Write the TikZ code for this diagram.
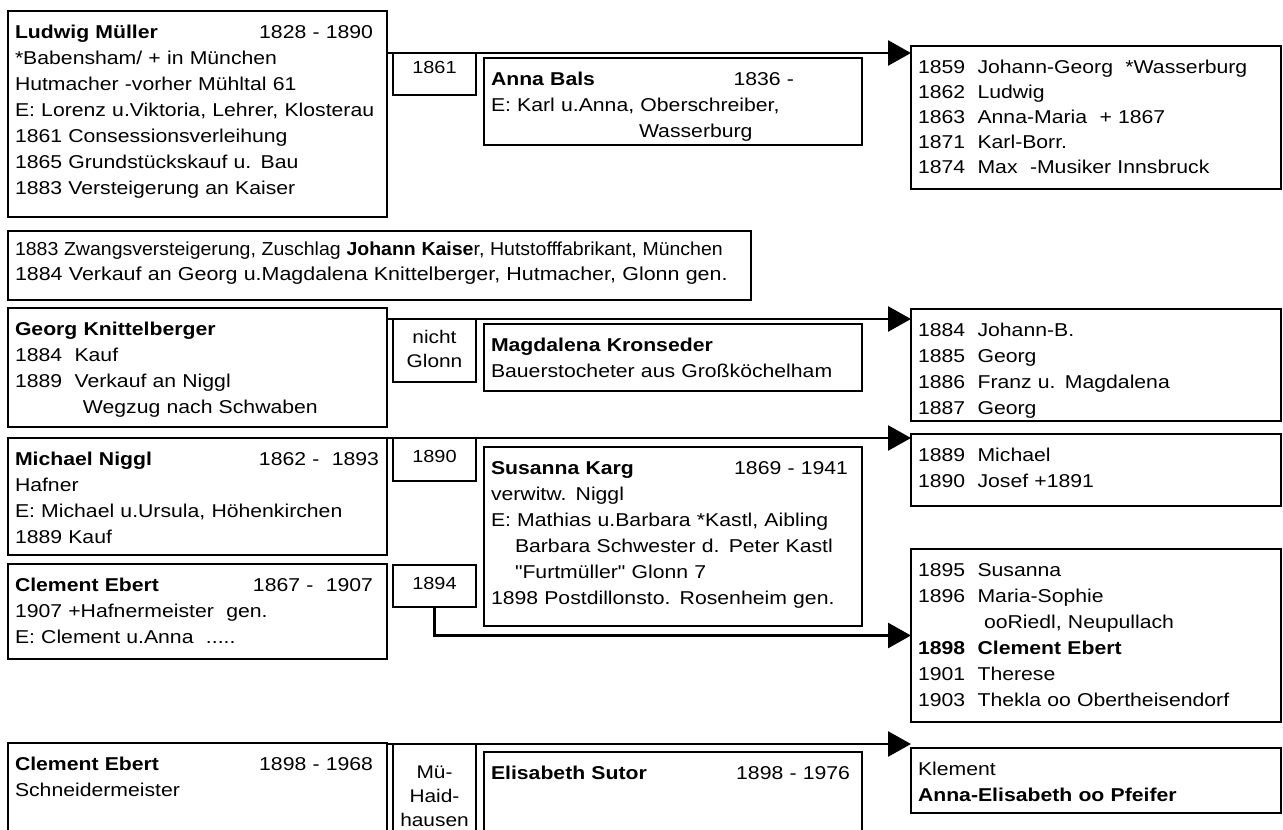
\documentclass[tikz,border=0pt]{standalone}
\usepackage{graphicx}
\usepackage{fontspec}
\setmainfont{Liberation Sans}[FakeStretch=1.14, Ligatures=TeXOff]
\usetikzlibrary{arrows.meta}
\newcommand{\lifespan}[2][0pt]{\hskip 0pt plus 1filll #2\kern#1\relax}

\begin{document}
\begin{tikzpicture}[x=1pt, y=-1pt, >={Triangle[length=23pt,width=25pt]},
  every box/.style={draw, line width=2.7pt, outer sep=0pt, inner sep=7pt,
    anchor=north west, align=left, text height=20pt,
    font=\fontsize{18.6}{26}\selectfont},
  datebox/.style={every box, inner sep=3pt, align=center, text width=77pt,
    text height=21pt, font=\fontsize{17.5}{24}\selectfont},
  link/.style={->, line width=2.7pt}]

\fill[white] (0,0) rectangle (1283,830);
\useasboundingbox (0,0) rectangle (1283,830);
\clip (0,0) rectangle (1283,830);

% owners
\node [every box, text width=365pt, text depth=172pt] (man-1) at (8,11)
  {\textbf{Ludwig Müller}\lifespan[7pt]{1828 - 1890}\\
   {}*Babensham/ + in München\\
   Hutmacher -vorher Mühltal 61\\
   E: Lorenz u.Viktoria, Lehrer, Klosterau\\
   1861 Consessionsverleihung\\
   1865 Grundstückskauf u. Bau\\
   1883 Versteigerung an Kaiser};

\node [every box, text width=729pt, text height=17pt, text depth=38pt,
  font=\fontsize{18.8}{25}\selectfont] (sale) at (8,231)
  {\scalebox{0.91}[1]{1883 Zwangsversteigerung, Zuschlag \textbf{Johann Kaise}r, Hutstofffabrikant, München}\\
   1884 Verkauf an Georg u.Magdalena Knittelberger, Hutmacher, Glonn gen.};

\node [every box, text width=365pt, text depth=85pt] (man-2) at (8,308)
  {\textbf{Georg Knittelberger}\\
   1884~~Kauf\\
   1889~~Verkauf an Niggl\\
   \hspace*{68pt}Wegzug nach Schwaben};

\node [every box, text width=365pt, text depth=83pt] (man-3) at (8,438)
  {\textbf{Michael Niggl}\lifespan[1pt]{1862 -~~1893}\\
   Hafner\\
   E: Michael u.Ursula, Höhenkirchen\\
   1889 Kauf};

\node [every box, text width=365pt, text depth=61pt] (man-4) at (8,564)
  {\textbf{Clement Ebert}\lifespan[7pt]{1867 -~~1907}\\
   1907 +Hafnermeister~~gen.\\
   E: Clement u.Anna~~.....};

\node [every box, text width=365pt, text depth=93pt] (man-5) at (8,743)
  {\textbf{Clement Ebert}\lifespan[7pt]{1898 - 1968}\\
   Schneidermeister};

% marriage
\node [datebox, text height=17pt, text depth=19pt] (year-1) at (393,53) {1861};
\node [datebox, text depth=36pt, font=\fontsize{18.3}{24}\selectfont] (year-2) at (393,319) {nicht\\Glonn};
\node [datebox, text depth=16pt] (year-3) at (393,438) {1890};
\node [datebox, text depth=15pt] (year-4) at (393,565) {1894};
\node [datebox, text height=31pt, text depth=89pt, font=\fontsize{18.3}{24}\selectfont] (year-5) at (393,744) {Mü-\\Haid-\\hausen};

% wives
\node [every box, text width=364pt, text depth=53pt] (wife-1) at (484,58)
  {\textbf{Anna Bals}\lifespan[61pt]{1836 -}\\
   E: Karl u.Anna, Oberschreiber,\\
   \hspace*{148pt}Wasserburg};

\node [every box, text width=364pt, text depth=33pt] (wife-2) at (484,324)
  {\textbf{Magdalena Kronseder}\\
   Bauerstocheter aus Großköchelham};

\node [every box, text width=364pt, text depth=145pt] (wife-3) at (484,447)
  {\textbf{Susanna Karg}\lifespan[7pt]{1869 - 1941}\\
   verwitw. Niggl\\
   E: Mathias u.Barbara *Kastl, Aibling\\
   \hspace*{24pt}Barbara Schwester d. Peter Kastl\\
   \hspace*{24pt}"Furtmüller" Glonn 7\\
   1898 Postdillonsto. Rosenheim gen.};

\node [every box, text width=364pt, text depth=84pt] (wife-5) at (484,752)
  {\textbf{Elisabeth Sutor}\lifespan[5pt]{1898 - 1976}};

% children
\node [every box, text width=356pt, text depth=109pt,
  font=\fontsize{18.6}{25}\selectfont] (kids-1) at (911,46)
  {1859~~Johann-Georg~~*Wasserburg\\
   1862~~Ludwig\\
   1863~~Anna-Maria~~+ 1867\\
   1871~~Karl-Borr.\\
   1874~~Max~~-Musiker Innsbruck};

\node [every box, text width=356pt, text depth=78pt] (kids-2) at (911,309)
  {1884~~Johann-B.\\
   1885~~Georg\\
   1886~~Franz u. Magdalena\\
   1887~~Georg};

\node [every box, text width=356pt, text depth=38pt] (kids-3) at (911,434)
  {1889~~Michael\\
   1890~~Josef +1891};

\node [every box, text width=356pt, text depth=139pt] (kids-4) at (911,549)
  {1895~~Susanna\\
   1896~~Maria-Sophie\\
   \hspace*{66pt}ooRiedl, Neupullach\\
   \textbf{1898~~Clement Ebert}\\
   1901~~Therese\\
   1903~~Thekla oo Obertheisendorf};

\node [every box, text width=356pt, text depth=31pt] (kids-5) at (911,748)
  {Klement\\
   \textbf{Anna-Elisabeth oo Pfeifer}};

\foreach \i in {1,2,3,5}
  \draw [link] (man-\i.east |- year-\i.north) -- (kids-\i.west |- year-\i.north);

\draw [link] (year-4.south) |- (kids-4.west);

\end{tikzpicture}
\end{document}
